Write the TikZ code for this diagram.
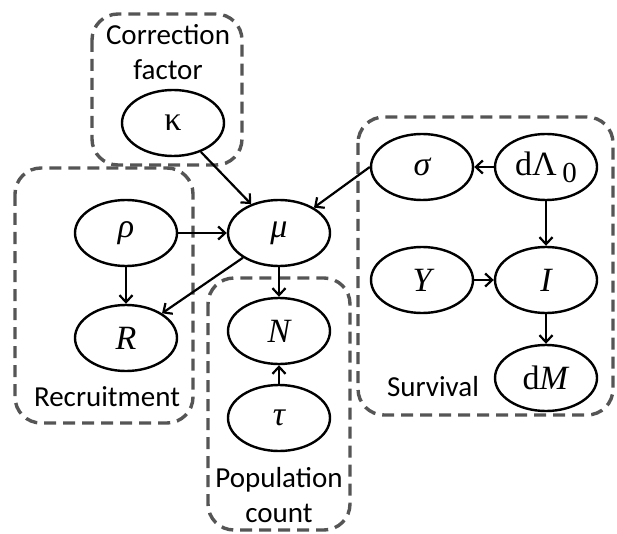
\documentclass[tikz,border=0pt]{standalone}
\usepackage{fontspec}
\setmainfont{Carlito}
\newfontfamily\varfont{Liberation Serif}
\usetikzlibrary{shapes.geometric,arrows.meta}
\definecolor{boxgray}{RGB}{85,85,85}
\begin{document}
\begin{tikzpicture}[x=1pt,y=-1pt,
  var/.style={ellipse,draw=black,line width=2.4pt,minimum width=102pt,minimum height=66pt,inner sep=0pt,
    font=\varfont\fontsize{34}{36}\selectfont},
  grp/.style={draw=boxgray,line width=3.4pt,dash pattern=on 12pt off 7pt,rounded corners=26pt},
  lbl/.style={font=\fontsize{29}{35}\selectfont,align=center,inner sep=0pt},
  edge/.style={line width=2.2pt,-{Straight Barb[length=7pt,width=13pt]}}]
\useasboundingbox (0,0) rectangle (617,534);
% groups
\draw[grp] (92,14) rectangle (242,165);
\draw[grp] (15,168) rectangle (193,423);
\draw[grp] (208,278) rectangle (350,530);
\draw[grp] (358,117) rectangle (613,415);
% labels
\node[lbl] (lcf) at (168,52) {Correction\\factor};
\node[lbl] (lrec) at (107,397) {Recruitment};
\node[lbl] (lpop) at (279,495) {Population\\count};
\node[lbl] (lsur) at (433,387) {Survival};
% nodes
\node[var] (kappa) at (173,123) {κ};
\node[var] (rho) at (126,233) {\itshape ρ};
\node[var] (mu) at (279,233) {\itshape μ};
\node[var] (R) at (126,338) {\itshape R};
\node[var] (N) at (279,331) {\itshape N};
\node[var] (tau) at (279,418) {\itshape τ};
\node[var] (sigma) at (422,167) {\itshape σ};
\node[var] (dL) at (546,167) {dΛ\,\raisebox{-7pt}{\fontsize{29}{30}\selectfont 0}};
\node[var] (Y) at (422,280) {\itshape Y};
\node[var] (I) at (546,280) {\itshape I};
\node[var] (dM) at (546,378) {d\textit{M}};
% edges
\draw[edge] (kappa) -- (mu);
\draw[edge] (sigma.west) -- (mu);
\draw[edge] (rho) -- (mu);
\draw[edge] (rho) -- (R);
\draw[edge] (mu) -- (R);
\draw[edge] (mu) -- (N);
\draw[edge] (tau) -- (N);
\draw[edge] (dL) -- (sigma);
\draw[edge] (dL) -- (I);
\draw[edge] (Y) -- (I);
\draw[edge] (I) -- (dM);
\end{tikzpicture}
\end{document}
